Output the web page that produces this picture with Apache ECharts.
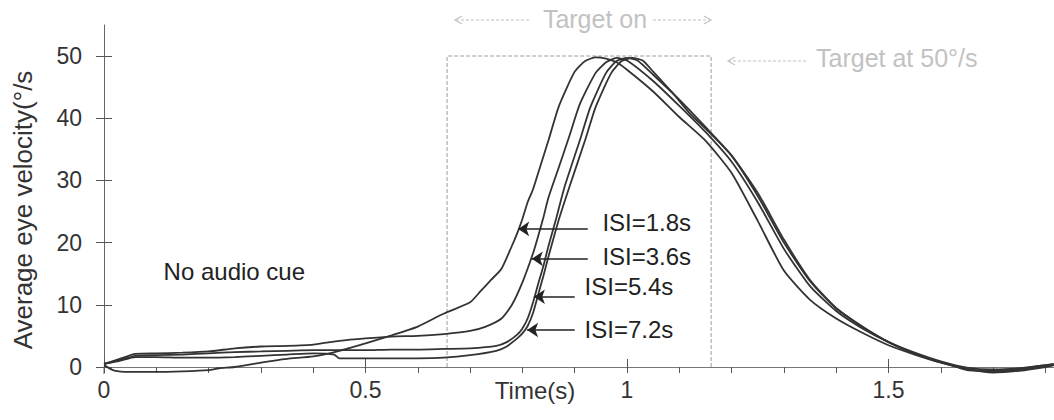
<!DOCTYPE html>
<html><head><meta charset="utf-8">
<script src="https://cdn.jsdelivr.net/npm/echarts@6/dist/echarts.min.js"></script>
<style>html,body{margin:0;padding:0;background:#fff;}#c{width:1054px;height:420px;}</style>
</head><body><div id="c"></div>
<script>
// ---------- data ----------
const seriesNames = ['ISI=1.8s', 'ISI=3.6s', 'ISI=5.4s', 'ISI=7.2s'];
const yTickValues = [0, 10, 20, 30, 40, 50];
const xTickValues = [0, 0.5, 1, 1.5];
const xMinorTickValues = [0,0.1,0.2,0.3,0.4,0.5,0.6,0.7,0.8,0.9,1.0,1.1,1.2,1.3,1.4,1.5,1.6,1.7,1.8];

const t18 = [0,0.02,0.05,0.1,0.15,0.2,0.22,0.25,0.3,0.35,0.4,0.45,0.5,0.55,0.6,0.65,0.7,0.72,0.74,0.76,0.78,0.79,0.8,0.81,0.82,0.835,0.85,0.87,0.9,0.92,0.94,0.96,0.98,1.0,1.05,1.1,1.15,1.2,1.25,1.3,1.35,1.4,1.45,1.5,1.55,1.6,1.65,1.7,1.75,1.8,1.816];
const v18 = [0.3,-0.6,-0.8,-0.8,-0.7,-0.5,-0.2,0.0,0.7,1.3,1.7,2.6,3.8,5.1,6.5,8.6,10.4,12.2,14.0,15.8,19.5,21.5,23.8,26.5,28.5,32.5,36.5,42.0,47.5,49.2,49.8,49.6,49.0,47.8,44.3,40.2,36.4,31.2,23.5,15.5,10.8,7.8,5.5,3.5,2.0,0.7,-0.3,-0.8,-0.5,0.1,0.3];

const t36 = [0,0.03,0.06,0.1,0.15,0.2,0.25,0.3,0.35,0.4,0.45,0.5,0.55,0.6,0.65,0.7,0.73,0.76,0.78,0.8,0.82,0.83,0.84,0.85,0.87,0.89,0.91,0.94,0.96,0.98,1.0,1.05,1.1,1.15,1.2,1.25,1.3,1.35,1.4,1.45,1.5,1.55,1.6,1.65,1.7,1.75,1.8,1.816];
const v36 = [0.5,1.3,2.1,2.2,2.3,2.5,3.0,3.3,3.4,3.6,4.2,4.6,4.9,5.0,5.3,5.8,6.5,7.8,10.0,13.6,18.2,21.0,24.0,27.3,32.2,37.2,42.3,47.3,49.0,49.7,49.3,46.0,42.0,37.8,33.0,26.5,19.0,13.0,9.0,6.2,4.0,2.3,0.9,-0.1,-0.4,-0.2,0.3,0.4];

const t54 = [0,0.03,0.06,0.1,0.15,0.2,0.25,0.3,0.35,0.4,0.45,0.5,0.55,0.6,0.65,0.7,0.75,0.77,0.79,0.8,0.81,0.82,0.83,0.84,0.85,0.865,0.88,0.91,0.93,0.96,0.98,1.0,1.02,1.05,1.1,1.15,1.2,1.25,1.3,1.35,1.4,1.45,1.5,1.55,1.6,1.65,1.7,1.75,1.8,1.816];
const v54 = [0.5,1.1,1.8,1.9,2.0,2.2,2.4,2.5,2.6,2.7,2.7,2.7,2.8,2.8,2.9,3.0,3.4,4.0,5.2,6.2,7.8,10.3,13.3,16.2,19.5,24.0,28.8,36.5,41.8,47.3,49.2,49.7,49.3,47.0,43.0,38.6,34.0,27.5,20.0,13.8,9.4,6.5,4.0,2.2,0.8,-0.3,-0.9,-0.6,0.0,0.3];

const t72 = [0,0.03,0.06,0.1,0.15,0.2,0.25,0.3,0.35,0.4,0.44,0.45,0.5,0.55,0.6,0.65,0.7,0.75,0.77,0.79,0.8,0.81,0.82,0.83,0.84,0.85,0.87,0.89,0.92,0.94,0.97,0.99,1.01,1.03,1.05,1.088,1.12,1.153,1.2,1.25,1.3,1.35,1.4,1.46,1.52,1.585,1.62,1.65,1.7,1.75,1.8,1.816];
const v72 = [0.5,1.0,1.6,1.6,1.5,1.5,1.6,1.8,2.0,2.2,2.0,1.4,1.4,1.4,1.4,1.5,1.9,2.6,3.3,4.6,5.4,6.6,8.6,11.6,14.6,17.8,23.8,29.0,36.5,41.8,47.3,49.2,49.7,49.3,47.5,44.0,40.8,38.1,34.0,28.0,20.5,14.0,9.5,5.9,3.2,1.1,0.3,-0.5,-0.6,-0.3,0.3,0.5];

// target window (target on, 50 deg/s)
const targetBoxT = [0.656, 0.656, 1.161, 1.161];
const targetBoxV = [0, 50, 50, 0];

// ISI label arrows (data coordinates)
const arrowTipT  = [0.792, 0.818, 0.822, 0.809];
const arrowTipV  = [22.2, 17.4, 11.3, 5.95];
const arrowTailT = [0.925, 0.925, 0.900, 0.900];
const labelT = [0.952, 0.952, 0.918, 0.918];
const labelV = [23.2, 17.7, 12.9, 6.1];
const noCueT = 0.113, noCueV = 15.3;

// ---------- chart ----------
const FONT = "'Liberation Sans', Arial, sans-serif";
const X_MAX = 950 / 523;
const zip = (a, b) => a.map((x, i) => [x, b[i]]);
const curveT = [t18, t36, t54, t72];
const curveV = [v18, v36, v54, v72];

const series = seriesNames.map((name, i) => ({
  name, type: 'line', xAxisIndex: 0, yAxisIndex: 0,
  data: zip(curveT[i], curveV[i]),
  showSymbol: false, symbol: 'none', smooth: 0.2, clip: false,
  lineStyle: { color: '#333', width: 1.8 },
  z: 3, silent: true,
  markLine: {
    silent: true, symbol: ['none', 'arrow'], symbolSize: 11,
    lineStyle: { color: '#222', width: 1.6, type: 'solid' },
    label: { show: false },
    data: [[{ coord: [arrowTailT[i], arrowTipV[i]] }, { coord: [arrowTipT[i], arrowTipV[i]] }]]
  },
  markPoint: {
    silent: true, symbol: 'rect', symbolSize: 1,
    itemStyle: { color: 'rgba(0,0,0,0)' },
    label: { show: true, position: 'right', distance: 0, color: '#222', fontSize: 24, fontFamily: FONT, formatter: name },
    data: [{ coord: [labelT[i], labelV[i]] }]
  }
}));

series.push({
  name: 'target', type: 'line', xAxisIndex: 0, yAxisIndex: 0,
  data: zip(targetBoxT, targetBoxV),
  showSymbol: false, symbol: 'none', silent: true, z: 1,
  lineStyle: { color: '#bdbdbd', width: 1.5, type: [4, 2] },
  markPoint: {
    silent: true, symbol: 'rect', symbolSize: 1,
    itemStyle: { color: 'rgba(0,0,0,0)' },
    label: { show: true, position: 'right', distance: 0, color: '#222', fontSize: 24, fontFamily: FONT, formatter: 'No audio cue' },
    data: [{ coord: [noCueT, noCueV] }]
  }
});

const grey = '#c2c2c2';
const option = {
  animation: false,
  backgroundColor: '#fff',
  grid: { left: 104, right: 0, top: 25, bottom: 53, containLabel: false },
  xAxis: [{
    type: 'value', min: 0, max: X_MAX, interval: 0.5, position: 'bottom',
    axisLine: { onZero: false, lineStyle: { color: '#777', width: 1 } },
    axisTick: { length: 6, lineStyle: { color: '#555', width: 1 }, customValues: xMinorTickValues },
    axisLabel: { margin: 11, fontSize: 23, color: '#333', fontFamily: FONT, customValues: xTickValues },
    splitLine: { show: false }
  }, {
    type: 'value', min: 0, max: X_MAX, interval: 0.5, position: 'top', offset: -342,
    axisLine: { show: false, onZero: false },
    axisTick: { length: 8, lineStyle: { color: '#555', width: 1 }, customValues: xTickValues },
    axisLabel: { show: false }, splitLine: { show: false }
  }],
  yAxis: [{
    type: 'value', min: 0, max: 55, interval: 10, position: 'left',
    axisLine: { show: true, onZero: false, lineStyle: { color: '#666', width: 1 } },
    axisTick: { show: true, length: 8, lineStyle: { color: '#555', width: 1 } },
    axisLabel: { margin: 22, fontSize: 23, color: '#333', fontFamily: FONT, showMaxLabel: false, padding: [0, 0, 8, 0] },
    splitLine: { show: false }
  }, {
    type: 'value', min: 0, max: 55, interval: 10, position: 'right', offset: -950,
    axisLine: { show: false, onZero: false },
    axisTick: { show: true, length: 8, customValues: yTickValues, lineStyle: { color: '#555', width: 1 } },
    axisLabel: { show: false }, splitLine: { show: false }
  }],
  series,
  graphic: [
    { type: 'line', shape: { x1: 104, y1: 367, x2: 104, y2: 374 }, style: { stroke: '#666', lineWidth: 1 } },
    { type: 'text', x: 23, y: 210, rotation: Math.PI / 2,
      style: { text: 'Average eye velocity(°/s', fontSize: 26, fontFamily: FONT, fill: '#333', align: 'center', verticalAlign: 'middle' } },
    { type: 'text', x: 535, y: 390,
      style: { text: 'Time(s)', fontSize: 24, fontFamily: FONT, fill: '#333', align: 'center', verticalAlign: 'middle' } },
    { type: 'text', x: 595, y: 19,
      style: { text: 'Target on', fontSize: 25, fontFamily: FONT, fill: grey, align: 'center', verticalAlign: 'middle' } },
    { type: 'line', shape: { x1: 529, y1: 20, x2: 456, y2: 20 }, style: { stroke: grey, lineWidth: 1.2, lineDash: [3, 2] } },
    { type: 'polyline', shape: { points: [[462, 16], [455, 20], [462, 24]] }, style: { stroke: grey, lineWidth: 1.2, fill: null } },
    { type: 'line', shape: { x1: 653, y1: 20, x2: 710, y2: 20 }, style: { stroke: grey, lineWidth: 1.2, lineDash: [3, 2] } },
    { type: 'polyline', shape: { points: [[704, 16], [711, 20], [704, 24]] }, style: { stroke: grey, lineWidth: 1.2, fill: null } },
    { type: 'text', x: 816, y: 58,
      style: { text: 'Target at 50°/s', fontSize: 25, fontFamily: FONT, fill: grey, align: 'left', verticalAlign: 'middle' } },
    { type: 'line', shape: { x1: 806, y1: 61, x2: 729, y2: 61 }, style: { stroke: grey, lineWidth: 1.2, lineDash: [3, 2] } },
    { type: 'polyline', shape: { points: [[735, 57], [728, 61], [735, 65]] }, style: { stroke: grey, lineWidth: 1.2, fill: null } }
  ]
};

const chart = echarts.init(document.getElementById('c'), null, { renderer: 'svg' });
chart.setOption(option);
</script>
</body></html>
